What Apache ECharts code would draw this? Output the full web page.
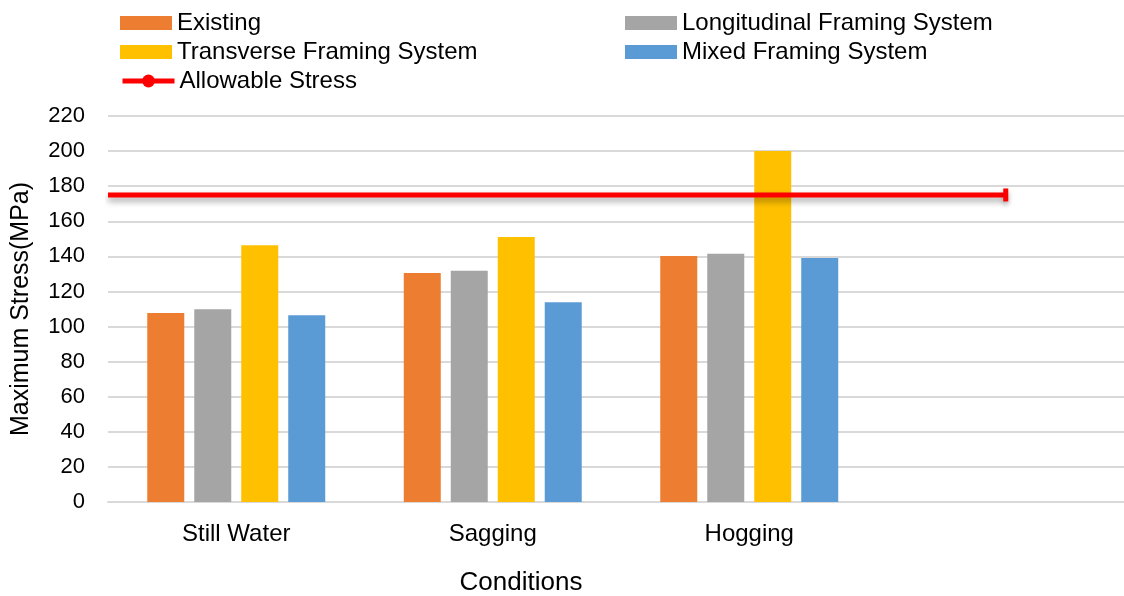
<!DOCTYPE html>
<html>
<head>
<meta charset="utf-8">
<style>
  html, body { margin: 0; padding: 0; background: #ffffff; overflow: hidden; }
  #chart { width: 1134px; height: 596px; }
</style>
<script src="https://cdn.jsdelivr.net/npm/echarts@6/dist/echarts.min.js"></script>
</head>
<body>
<div id="chart"></div>
<script>
// Loading conditions (the fourth slot is left empty on the axis)
const categories = ['Still Water', 'Sagging', 'Hogging', ''];

// Maximum stress (MPa) per framing configuration
const existing     = [107.7, 130.5, 140.2];
const longitudinal = [109.9, 131.8, 141.5];
const transverse   = [146.3, 151.0, 200.0];
const mixed        = [106.4, 113.8, 139.0];

// Allowable stress level and the span it covers, in category units
const allowableStress = 175;
const allowableSpan = [0, 3.5];

const yTicks = { min: 0, max: 220, interval: 20 };

const FONT = 'Liberation Sans, Arial, sans-serif';
const colors = {
  existing: '#ED7D31',
  longitudinal: '#A5A5A5',
  transverse: '#FFC000',
  mixed: '#5B9BD5',
  allowable: '#FF0000'
};

const chart = echarts.init(document.getElementById('chart'), null, { renderer: 'canvas' });

function barSeries(name, data, color) {
  return {
    name: name,
    type: 'bar',
    data: data,
    barWidth: 37,
    barGap: '27%',
    itemStyle: { color: color },
    xAxisIndex: 0,
    yAxisIndex: 0,
    z: 2
  };
}

const legendText = { fontFamily: FONT, fontSize: 24, color: '#000000', lineHeight: 24 };
const legendBase = {
  orient: 'vertical',
  padding: 0,
  itemWidth: 52,
  itemHeight: 14,
  itemGap: 5,
  textStyle: legendText
};

chart.setOption({
  animation: false,
  backgroundColor: '#ffffff',
  textStyle: { fontFamily: FONT },
  legend: [
    Object.assign({}, legendBase, {
      left: 120,
      top: 11,
      data: [
        { name: 'Existing', icon: 'rect' },
        { name: 'Transverse Framing System', icon: 'rect' }
      ]
    }),
    Object.assign({}, legendBase, {
      left: 120,
      top: 69,
      itemHeight: 16,
      data: [
        { name: 'Allowable Stress', lineStyle: { width: 5 } }
      ]
    }),
    Object.assign({}, legendBase, {
      left: 625,
      top: 11,
      data: [
        { name: 'Longitudinal Framing System', icon: 'rect' },
        { name: 'Mixed Framing System', icon: 'rect' }
      ]
    })
  ],
  grid: {
    left: 108,
    top: 116,
    right: 0,
    height: 386,
    containLabel: false
  },
  xAxis: [
    {
      type: 'category',
      data: categories,
      axisLine: { show: true, lineStyle: { color: '#d9d9d9', width: 2 } },
      axisTick: { show: false },
      axisLabel: {
        color: '#000000',
        fontFamily: FONT,
        fontSize: 24,
        margin: 20
      },
      splitLine: { show: false }
    },
    {
      type: 'value',
      min: 0,
      max: categories.length,
      show: false,
      splitLine: { show: false }
    }
  ],
  yAxis: {
    type: 'value',
    min: yTicks.min,
    max: yTicks.max,
    interval: yTicks.interval,
    name: 'Maximum Stress(MPa)',
    nameLocation: 'middle',
    nameGap: 74,
    nameTextStyle: { color: '#000000', fontFamily: FONT, fontSize: 25 },
    axisLine: { show: false },
    axisTick: { show: false },
    axisLabel: {
      color: '#000000',
      fontFamily: FONT,
      fontSize: 22,
      margin: 23
    },
    splitLine: { show: true, lineStyle: { color: '#d9d9d9', width: 2 } }
  },
  graphic: [
    {
      type: 'text',
      x: 521,
      y: 583,
      style: {
        text: 'Conditions',
        fontFamily: FONT,
        fontSize: 26,
        fill: '#000000',
        align: 'center',
        verticalAlign: 'middle'
      }
    }
  ],
  series: [
    barSeries('Existing', existing, colors.existing),
    barSeries('Longitudinal Framing System', longitudinal, colors.longitudinal),
    barSeries('Transverse Framing System', transverse, colors.transverse),
    barSeries('Mixed Framing System', mixed, colors.mixed),
    {
      name: 'Allowable Stress',
      type: 'line',
      xAxisIndex: 1,
      yAxisIndex: 0,
      z: 5,
      symbol: 'circle',
      symbolSize: 14,
      showSymbol: true,
      itemStyle: { color: colors.allowable },
      lineStyle: {
        color: colors.allowable,
        width: 5,
        shadowColor: 'rgba(0,0,0,0.35)',
        shadowBlur: 6,
        shadowOffsetY: 4
      },
      data: [
        { value: [allowableSpan[0], allowableStress], symbol: 'none' },
        {
          value: [allowableSpan[1], allowableStress],
          symbol: 'rect',
          symbolSize: [5, 13],
          itemStyle: {
            color: colors.allowable,
            shadowColor: 'rgba(0,0,0,0.3)',
            shadowBlur: 5,
            shadowOffsetY: 3
          }
        }
      ]
    }
  ]
});
</script>
</body>
</html>
